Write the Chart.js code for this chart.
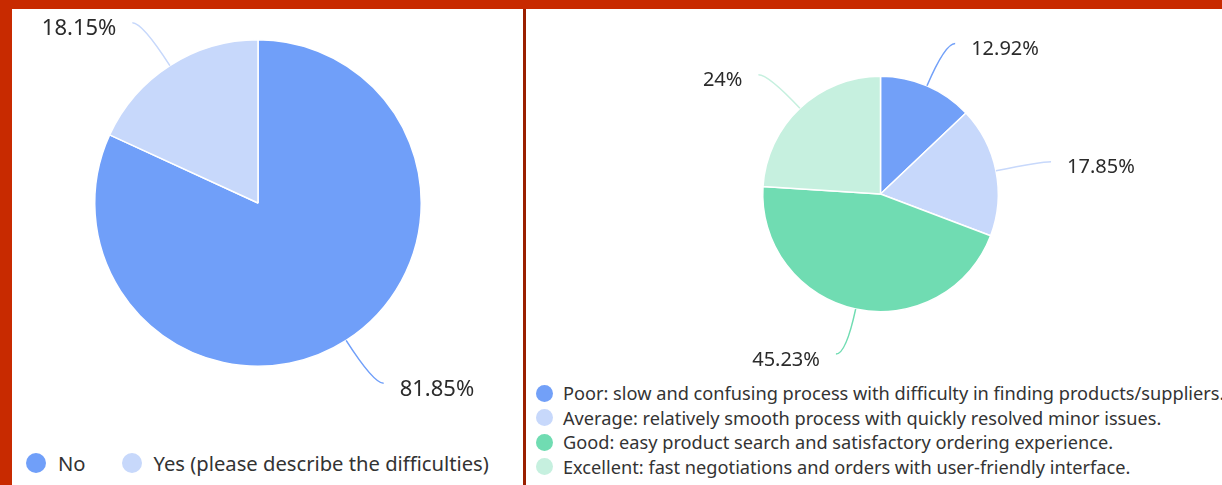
<!DOCTYPE html>
<html>
<head>
<meta charset="utf-8">
<script src="https://cdn.jsdelivr.net/npm/chart.js@4"></script>
<style>
    body { margin: 0; width: 1222px; height: 485px; background: #c82a00; position: relative; overflow: hidden; font-family: "Noto Sans", sans-serif; }
    #p1 { position: absolute; left: 12px; top: 9px; width: 511px; height: 476px; background: #fff; }
    #sep { position: absolute; left: 523px; top: 9px; width: 3px; height: 476px; background: #9a1f00; }
    #p2 { position: absolute; left: 526px; top: 9px; width: 696px; height: 476px; background: #fff; overflow: hidden; }
    canvas { position: absolute; left: 0; top: 0; }
    .lg { position: absolute; color: #333; white-space: nowrap; }
    .lg span.dot { display: inline-block; border-radius: 50%; }
    #lg1 { left: 14px; top: 432px; font-size: 20.2px; display: flex; align-items: center; height: 44px; }
    #lg1 .it { display: flex; align-items: center; margin-right: 36px; }
    #lg1 .dot { width: 20px; height: 20px; margin-right: 12px; }
    #lg2 { left: 10px; top: 372px; font-size: 18.2px; }
    #lg2 .it { display: flex; align-items: center; height: 24.5px; }
    #lg2 .dot { width: 17px; height: 17px; margin-right: 10px; }
</style>
</head>
<body>
<div id="p1">
    <canvas id="c1" width="511" height="420"></canvas>
    <div class="lg" id="lg1"></div>
</div>
<div id="sep"></div>
<div id="p2">
    <canvas id="c2" width="696" height="370"></canvas>
    <div class="lg" id="lg2"></div>
</div>
<script>
const diffLabels = ['No', 'Yes (please describe the difficulties)'];
const diffValues = [81.85, 18.15];
const diffColors = ['#709ff9', '#c7d8fb'];

const expLabels = [
    'Poor: slow and confusing process with difficulty in finding products/suppliers.',
    'Average: relatively smooth process with quickly resolved minor issues.',
    'Good: easy product search and satisfactory ordering experience.',
    'Excellent: fast negotiations and orders with user-friendly interface.'
];
const expValues = [12.92, 17.85, 45.23, 24];
const expColors = ['#72a0f8', '#c7d8fb', '#70dcb2', '#c6f0df'];

// curved leader lines + percentage text outside each slice
function leaderLabels(len1, fontSize) {
    return {
        id: 'leaderLabels',
        afterDatasetsDraw(chart) {
            const ctx = chart.ctx;
            const ds = chart.data.datasets[0];
            chart.getDatasetMeta(0).data.forEach((arc, i) => {
                const p = arc.getProps(['x', 'y', 'startAngle', 'endAngle', 'outerRadius'], true);
                const mid = (p.startAngle + p.endAngle) / 2;
                const cx = Math.cos(mid), cy = Math.sin(mid);
                const side = cx >= 0 ? 1 : -1;
                const x0 = p.x + cx * p.outerRadius, y0 = p.y + cy * p.outerRadius;
                const x1 = p.x + cx * (p.outerRadius + len1), y1 = p.y + cy * (p.outerRadius + len1);
                const x2 = x1 + side * 10, y2 = y1;
                ctx.save();
                ctx.strokeStyle = ds.backgroundColor[i];
                ctx.lineWidth = 1.5;
                ctx.beginPath();
                ctx.moveTo(x0, y0);
                ctx.quadraticCurveTo(x1, y1, x2, y2);
                ctx.stroke();
                ctx.fillStyle = '#2b2b2b';
                ctx.font = fontSize + 'px "Noto Sans"';
                ctx.textBaseline = 'middle';
                ctx.textAlign = side > 0 ? 'left' : 'right';
                ctx.fillText(ds.data[i] + '%', x2 + side * 16, y2 + 6);
                ctx.restore();
            });
        }
    };
}

function pie(id, labels, values, colors, pad, len1, fontSize) {
    return new Chart(document.getElementById(id), {
        type: 'pie',
        data: {
            labels: labels,
            datasets: [{ data: values, backgroundColor: colors, borderColor: '#fff', borderWidth: 1.5 }]
        },
        options: {
            responsive: false,
            animation: false,
            layout: { padding: pad },
            plugins: { legend: { display: false }, tooltip: { enabled: false } }
        },
        plugins: [leaderLabels(len1, fontSize)]
    });
}

pie('c1', diffLabels, diffValues, diffColors, { left: 82, top: 30, right: 101, bottom: 62 }, 51, 22);
pie('c2', expLabels, expValues, expColors, { left: 236, top: 66, right: 223, bottom: 66 }, 46, 20);

function legend(elId, labels, colors) {
    const el = document.getElementById(elId);
    labels.forEach((l, i) => {
        el.innerHTML += `<div class="it"><span class="dot" style="background:${colors[i]}"></span>${l}</div>`;
    });
}
legend('lg1', diffLabels, diffColors);
legend('lg2', expLabels, expColors);
</script>
</body>
</html>
